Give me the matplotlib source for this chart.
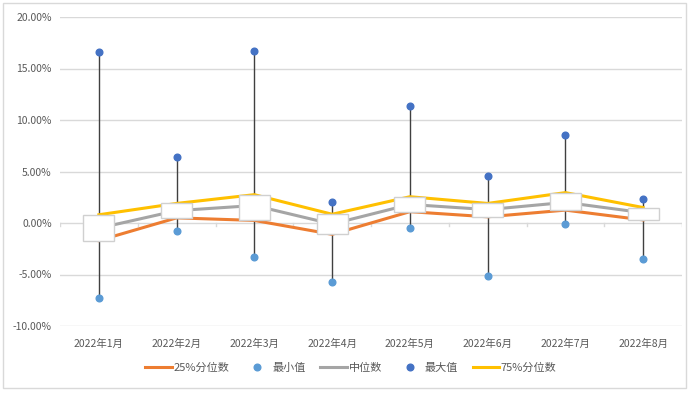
import matplotlib.pyplot as plt
import numpy as np
from matplotlib.ticker import FuncFormatter

plt.rcParams['font.family'] = ['Noto Sans CJK SC', 'DejaVu Sans']

months = ["2022年1月", "2022年2月", "2022年3月", "2022年4月",
          "2022年5月", "2022年6月", "2022年7月", "2022年8月"]
# values in percent
q25 = [-1.7, 0.5, 0.25, -1.1, 1.1, 0.6, 1.25, 0.3]
min_v = [-7.3, -0.75, -3.3, -5.7, -0.5, -5.1, -0.1, -3.45]
median = [-0.5, 1.2, 1.7, -0.1, 1.8, 1.3, 2.0, 1.0]
max_v = [16.6, 6.4, 16.7, 2.05, 11.35, 4.55, 8.5, 2.3]
q75 = [0.8, 1.9, 2.75, 0.85, 2.55, 1.9, 2.95, 1.5]

fig = plt.figure(figsize=(7, 3.93), dpi=100)
ax = fig.add_axes([60/700, 1-326/393, 622/700, 309/393])

x = np.arange(len(months))
grid_c = '#D9D9D9'
text_c = '#595959'

for y in range(-10, 25, 5):
    if y != 0:
        ax.axhline(y, color=grid_c, lw=1, zorder=0)
ax.axhline(0, color=grid_c, lw=1, zorder=0.5)
# small ticks between categories on the 0 line
for b in np.arange(-0.5, len(months) + 0.5, 1):
    ax.plot([b, b], [0, -0.3], color=grid_c, lw=1, zorder=0.5)

# high-low lines
ax.vlines(x, min_v, max_v, color='#404040', lw=1, zorder=1)

l25, = ax.plot(x, q25, color='#ED7D31', lw=2.2, zorder=2, label='25%分位数')
lmed, = ax.plot(x, median, color='#A5A5A5', lw=2.2, zorder=2, label='中位数')
l75, = ax.plot(x, q75, color='#FFC000', lw=2.2, zorder=2, label='75%分位数')

# up-down bars
ax.bar(x, np.array(q75) - np.array(q25), bottom=q25, width=0.4,
       color='white', edgecolor='#D0D0D0', lw=1, zorder=3)

lmin, = ax.plot(x, min_v, 'o', color='#5B9BD5', ms=4.8, lw=0, zorder=4, label='最小值')
lmax, = ax.plot(x, max_v, 'o', color='#4472C4', ms=4.8, lw=0, zorder=4, label='最大值')

ax.set_xlim(-0.5, len(months) - 0.5)
ax.set_ylim(-10, 20)
ax.set_yticks(range(-10, 25, 5))
ax.yaxis.set_major_formatter(FuncFormatter(lambda v, p: f"{v:.2f}%"))
ax.set_xticks(x)
ax.set_xticklabels(months)
ax.tick_params(axis='both', length=0, labelsize=7.5, colors=text_c)
ax.tick_params(axis='x', pad=9)
ax.tick_params(axis='y', pad=6)
for s in ax.spines.values():
    s.set_visible(False)

fig.legend(handles=[l25, lmin, lmed, lmax, l75], loc='center',
           bbox_to_anchor=(351/700, 1-368/393), ncol=5, frameon=False,
           fontsize=8, labelcolor=text_c, handlelength=2.4, handletextpad=0.15,
           columnspacing=1.3)

border = plt.Rectangle((3/700, 5/393), 683/700, 385/393, transform=fig.transFigure,
                       fill=False, edgecolor='#D9D9D9', lw=1)
fig.patches.append(border)

fig.savefig('out.png', dpi=100)
